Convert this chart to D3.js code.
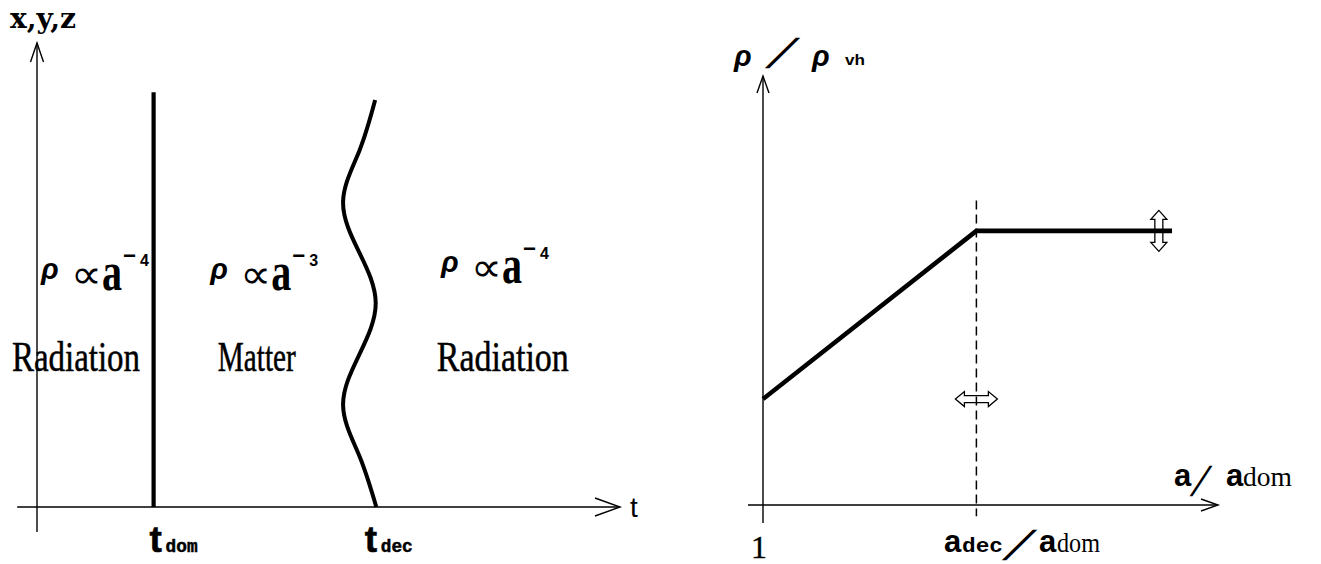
<!DOCTYPE html>
<html><head><meta charset="utf-8">
<script src="https://cdn.jsdelivr.net/npm/d3@7"></script>
<style>html,body{margin:0;padding:0;background:#fff;} svg{display:block;}</style>
</head><body>
<svg id="chart" width="1321" height="564"></svg>
<script>
// ---------------- data ----------------
const leftYAxisLabel = "x,y,z";
const leftXAxisLabel = "t";
const tDom = 2.0;                 // matter domination boundary (thick line)
const tDomTop = 8.94;
const epochSubs = ["dom", "dec"];
// decoupling boundary: wavy line (t, height)
const waveT = [5.80, 5.53, 5.25, 5.53, 5.81, 5.53, 5.25, 5.53, 5.82];
const waveH = [8.77, 7.68, 6.58, 5.48, 4.39, 3.29, 2.19, 1.10, 0];
const regionNames = ["Radiation", "Matter", "Radiation"];
const regionExponents = ["4", "3", "4"];

// right panel: rho / rho_vh versus a / a_dom
const aRatio = [0, 4.69, 8.99];
const rhoRatio = [2.47, 6.39, 6.39];
const aDec = 4.69;
const xTickLabels = ["1"];

// ---------------- layout / style ----------------
const svg = d3.select("#chart");
const SERIF = "'Liberation Serif', 'Times New Roman', serif";
const SANS = "'Liberation Sans', Arial, sans-serif";
const MONO = "'Liberation Mono', 'Courier New', monospace";
const SLAB = "'DejaVu Serif', serif";
const SYM = "'DejaVu Sans', sans-serif";

const xL = d3.scaleLinear().domain([0, 10]).range([37, 620]);
const yL = d3.scaleLinear().domain([0, 10]).range([507, 43]);
const xR = d3.scaleLinear().domain([0, 10]).range([763, 1218]);
const yR = d3.scaleLinear().domain([0, 10]).range([505, 76]);

function txt(x, y, s, o) {
  const t = svg.append("text").attr("x", x).attr("y", y).text(s)
    .attr("font-family", o.family || SERIF)
    .attr("font-size", o.size || 20)
    .attr("font-weight", o.weight || "normal")
    .attr("font-style", o.style || "normal")
    .attr("text-anchor", o.anchor || "start")
    .attr("fill", "#000");
  if (o.len) t.attr("textLength", o.len).attr("lengthAdjust", "spacingAndGlyphs");
  if (o.stroke) t.attr("stroke", "#000").attr("stroke-width", o.stroke);
  return t;
}
const line = d3.line();
function path(pts, sw, extra) {
  const p = svg.append("path").attr("d", line(pts)).attr("fill", "none")
    .attr("stroke", "#000").attr("stroke-width", sw);
  if (extra) extra(p);
  return p;
}

// ---------------- left panel ----------------
path([[xL(-0.34), yL(0)], [xL(10), yL(0)]], 1.4);
path([[xL(10) - 25, yL(0) - 9], [xL(10), yL(0)], [xL(10) - 25, yL(0) + 9]], 1.4);
path([[xL(0), yL(-0.54)], [xL(0), yL(10)]], 1.4);
path([[xL(0) - 6.5, yL(10) + 19], [xL(0), yL(10)], [xL(0) + 6.5, yL(10) + 19]], 1.4);

txt(10, 28, leftYAxisLabel, {family: SLAB, size: 27, weight: "bold", len: 66});
txt(630, 517, leftXAxisLabel, {family: SANS, size: 28});

// thick boundary at t_dom
path([[xL(tDom), yL(0)], [xL(tDom), yL(tDomTop)]], 4.2);
// wavy boundary at t_dec
svg.append("path")
  .attr("d", d3.line().x(d => xL(d[0])).y(d => yL(d[1])).curve(d3.curveNatural)(waveT.map((t, i) => [t, waveH[i]])))
  .attr("fill", "none").attr("stroke", "#000").attr("stroke-width", 4);

// epoch labels
const epochLabelT = [tDom, 5.69];
epochLabelT.forEach((t, i) => {
  const x = xL(t) - 4;
  txt(x, 552, "t", {family: SANS, size: 37, weight: "bold", stroke: 0.6});
  txt(x + 16, 552, epochSubs[i], {family: MONO, size: 19, weight: "bold", len: 32, stroke: 0.5});
});

// region formulas and names
const formulaStartT = [0.07, 2.97, 6.93];
const formulaBase = [290, 290, 283];
const regionCenterT = [0.67, 3.77, 7.99];
const regionLen = [128, 78, 132];
regionNames.forEach((name, i) => {
  const x0 = xL(formulaStartT[i]);
  const b = formulaBase[i];
  txt(x0, b - 11, "ρ", {family: SANS, size: 29, weight: "bold", style: "italic"});
  txt(x0 + 30, b - 2, "∝", {family: SYM, size: 40, len: 31});
  txt(x0 + 61, b, "a", {family: SERIF, size: 54, weight: "bold", len: 20});
  txt(x0 + 82, b - 27, "−", {family: SANS, size: 22, weight: "bold", len: 13});
  txt(x0 + 99, b - 24, regionExponents[i], {family: SANS, size: 16, weight: "bold"});
  txt(xL(regionCenterT[i]), 371, name, {family: SERIF, size: 42, anchor: "middle", len: regionLen[i], stroke: 0.5});
});

// ---------------- right panel ----------------
path([[xR(-0.33), yR(0)], [xR(10), yR(0)]], 1.4);
path([[xR(10) - 17, yR(0) - 6], [xR(10), yR(0)], [xR(10) - 17, yR(0) + 6]], 1.4);
path([[xR(0), yR(-0.42)], [xR(0), yR(10)]], 1.4);
path([[xR(0) - 6, yR(10) + 17], [xR(0), yR(10)], [xR(0) + 6, yR(10) + 17]], 1.4);

// dashed decoupling marker
path([[xR(aDec), yR(7.1)], [xR(aDec), yR(-0.26)]], 1.5, p => p.attr("stroke-dasharray", "9,5"));

// density curve
svg.append("path")
  .attr("d", d3.line().x(d => xR(d)).y((d, i) => yR(rhoRatio[i]))(aRatio))
  .attr("fill", "none").attr("stroke", "#000").attr("stroke-width", 4.6)
  .attr("stroke-linejoin", "miter");

// hollow double arrows
function dblArrow(cx, cy, len, headLen, headHalf, shaftHalf, vertical) {
  const h = len / 2;
  let pts = [[-h, 0], [-h + headLen, -headHalf], [-h + headLen, -shaftHalf], [h - headLen, -shaftHalf],
    [h - headLen, -headHalf], [h, 0], [h - headLen, headHalf], [h - headLen, shaftHalf],
    [-h + headLen, shaftHalf], [-h + headLen, headHalf]];
  if (vertical) pts = pts.map(p => [p[1], p[0]]);
  svg.append("path").attr("d", d3.line()(pts.map(p => [cx + p[0], cy + p[1]])) + "Z")
    .attr("fill", "none").attr("stroke", "#000").attr("stroke-width", 1.3);
}
dblArrow(xR(aDec), yR(rhoRatio[0]), 42, 9, 7.5, 3.5, false);
dblArrow(xR(8.70), yR(rhoRatio[2]), 41, 9, 8, 4, true);

// right labels
txt(xR(0) - 4, 558, xTickLabels[0], {family: SERIF, size: 32, anchor: "middle", stroke: 0.4});
// a_dec / a_dom
txt(944, 552, "a", {family: SANS, size: 31, weight: "bold"});
txt(962, 552, "dec", {family: MONO, size: 20, weight: "bold", len: 41});
txt(1004, 554, "╱", {family: SYM, size: 26, len: 31});
txt(1039, 552, "a", {family: SANS, size: 31, weight: "bold"});
txt(1057, 552, "dom", {family: SERIF, size: 27, len: 43});
// a / a_dom
txt(1174, 486, "a", {family: SANS, size: 31, weight: "bold"});
txt(1191, 490, "╱", {family: SYM, size: 26, len: 20});
txt(1226, 486, "a", {family: SANS, size: 31, weight: "bold"});
txt(1243, 486, "dom", {family: SERIF, size: 27, len: 49});
// rho / rho_vh
txt(734, 66, "ρ", {family: SANS, size: 29, weight: "bold", style: "italic"});
txt(767, 62, "╱", {family: SYM, size: 26, len: 31});
txt(812, 66, "ρ", {family: SANS, size: 29, weight: "bold", style: "italic"});
txt(845, 65, "vh", {family: SANS, size: 15, weight: "bold", len: 20});
</script>
</body></html>
